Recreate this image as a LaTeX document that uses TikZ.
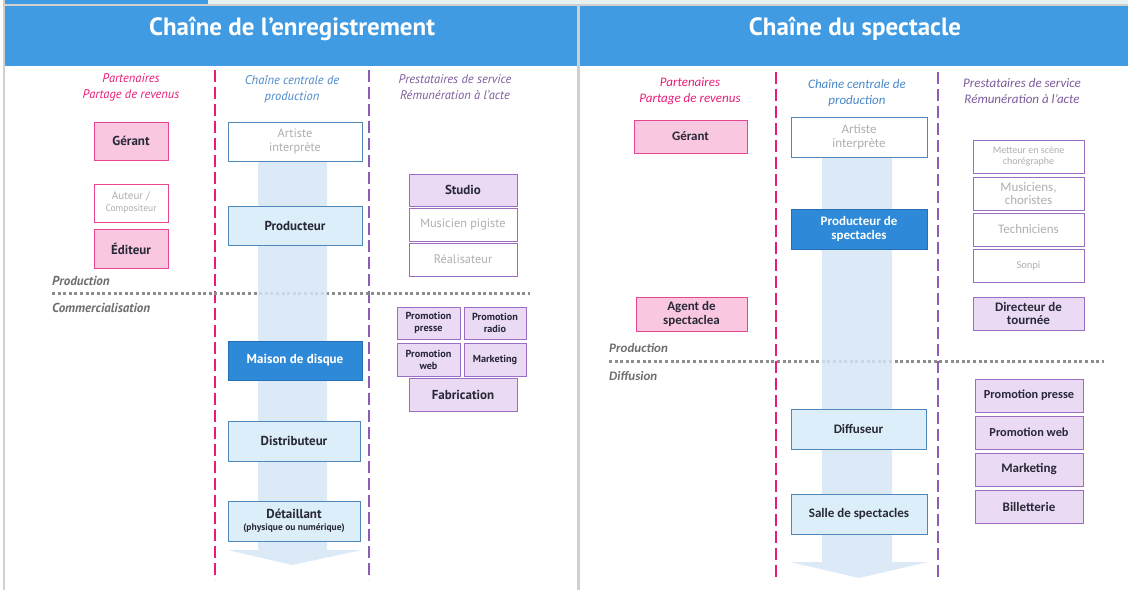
\documentclass[tikz,border=0pt]{standalone}
\usepackage{fontspec}
\setmainfont{PT Sans}
\newfontfamily\calib{Carlito}
\usetikzlibrary{positioning}
\definecolor{hdrblue}{RGB}{64,155,227}
\definecolor{tabpale}{RGB}{230,242,242}
\definecolor{edge}{RGB}{208,208,208}
\definecolor{pinkln}{RGB}{232,28,120}
\definecolor{pinkfill}{RGB}{249,200,224}
\definecolor{pinkbd}{RGB}{232,70,145}
\definecolor{purpln}{RGB}{140,92,182}
\definecolor{purpfill}{RGB}{234,218,244}
\definecolor{purpbd}{RGB}{155,110,195}
\definecolor{bluefill}{RGB}{220,238,250}
\definecolor{bluebd}{RGB}{80,135,185}
\definecolor{darkfill}{RGB}{46,138,216}
\definecolor{darkbd}{RGB}{36,112,184}
\definecolor{band}{RGB}{213,230,245}
\definecolor{bluetxt}{RGB}{74,136,200}
\definecolor{purptxt}{RGB}{125,90,155}
\definecolor{greytxt}{RGB}{110,110,110}
\definecolor{palegrey}{RGB}{175,175,175}
\definecolor{inktxt}{RGB}{40,40,55}
\tikzset{
  sz/.style 2 args={minimum width=#1, minimum height=#2},
  lbl/.style={font=\bfseries\fontsize{13}{15}\selectfont, text=inktxt},
  small/.style={font=\bfseries\fontsize{10.2}{12}\selectfont, text=inktxt},
  faint/.style={font=\fontsize{12.3}{15}\selectfont, text=palegrey},
  ptn/.style={draw=pinkbd, fill=pinkfill, line width=1pt, align=center, inner sep=1pt},
  ptnw/.style={draw=pinkbd, fill=white, line width=1pt, align=center, inner sep=1pt},
  ctr/.style={draw=bluebd, fill=bluefill, line width=1pt, align=center, inner sep=1pt},
  ctrw/.style={draw=bluebd, fill=white, line width=1pt, align=center, inner sep=1pt},
  ctrd/.style={draw=darkbd, fill=darkfill, line width=1pt, align=center, inner sep=1pt, text=white},
  srv/.style={draw=purpbd, fill=purpfill, line width=1pt, align=center, inner sep=1pt},
  srvw/.style={draw=purpbd, fill=white, line width=1pt, align=center, inner sep=1pt},
  colhead/.style={font=\itshape\fontsize{12.5}{16}\selectfont, align=center},
  phase/.style={font=\bfseries\itshape\fontsize{13}{15}\selectfont, text=greytxt, anchor=west, inner sep=0pt},
  pinkdash/.style={draw=pinkln, line width=2pt, dash pattern=on 12pt off 5pt},
  purpdash/.style={draw=purpln, line width=2pt, dash pattern=on 12pt off 5pt},
  phaseline/.style={draw=gray!90, line width=3pt, dash pattern=on 3pt off 2.6pt},
  title/.style={font=\bfseries\fontsize{25}{30}\selectfont, text=white}
}
\begin{document}
\begin{tikzpicture}[x=1pt,y=-1pt]
\useasboundingbox (0,0) rectangle (1128,590);
% frame and headers
\fill[tabpale] (208,0) rectangle (1128,4);
\fill[hdrblue] (5,0) rectangle (208,4);
\fill[edge] (5,4) rectangle (1128,6);
\fill[hdrblue] (5,6) rectangle (577,66);
\fill[hdrblue] (580,6) rectangle (1128,66);
\fill[edge] (3,0) rectangle (5,590);
\fill[edge] (577,6) rectangle (580,590);
\node[title] (t1) at (292,29) {Chaîne de l’enregistrement};
\node[title] (t2) at (855,29) {Chaîne du spectacle};

%%%% left panel
\node[colhead, text=pinkln] (h1) at (131,87) {Partenaires\\Partage de revenus};
\node[colhead, text=bluetxt] (h2) at (292,89) {Chaîne centrale de\\production};
\node[colhead, text=purptxt] (h3) at (455,87) {Prestataires de service\\Rémunération à l’acte};
\coordinate (pa) at (215,70); \coordinate (pb) at (215,580);
\coordinate (qa) at (369,70); \coordinate (qb) at (369,580);
\draw[pinkdash] (pa) -- (pb);
\draw[purpdash] (qa) -- (qb);
\coordinate (la) at (52,293); \coordinate (lb) at (530,293);
\draw[phaseline] (la) -- (lb);
\node[phase] (ph1) at (52,281) {Production};
\node[phase] (ph2) at (52,308) {Commercialisation};
% flow band
\fill[band, opacity=.85] (258,150) -- (327,150) -- (327,550) -- (362,550) -- (292,565) -- (228,550) -- (258,550) -- cycle;

\node[ptn, sz={74pt}{38pt}, lbl] (g1) at (131,141) {Gérant};
\node[ptnw, sz={74pt}{38pt}, faint, font=\fontsize{11}{13}\selectfont] (au1) at (131,203) {Auteur /\\[-1pt]{\fontsize{9.5}{11}\selectfont Compositeur}};
\node[ptn, sz={74pt}{39pt}, lbl] (ed1) at (131,248.5) {Éditeur};

\node[ctrw, sz={134pt}{39pt}, faint] (ar1) at (295,141.5) {Artiste\\[-1pt]interprète};
\node[ctr, sz={134pt}{39pt}, lbl] (pr1) at (295,225.5) {Producteur};
\node[ctrd, sz={134pt}{39pt}, lbl, text=white] (md1) at (295,360.5) {Maison de disque};
\node[ctr, sz={132pt}{40pt}, lbl] (di1) at (294,441) {Distributeur};
\node[ctr, sz={132pt}{40pt}, lbl] (de1) at (294,521) {Détaillant\\[-3pt]{\fontsize{9.5}{11}\selectfont (physique ou numérique)}};

\node[srv, sz={108pt}{32pt}, lbl] (st1) at (463,190) {Studio};
\node[srvw, sz={108pt}{33pt}, faint] (mp1) at (463,224.5) {Musicien pigiste};
\node[srvw, sz={108pt}{33pt}, faint] (re1) at (463,259.5) {Réalisateur};
\node[srv, sz={63pt}{32pt}, small] (pp1) at (428.5,323) {Promotion\\presse};
\node[srv, sz={62pt}{32pt}, small] (pr2) at (495,323) {Promotion\\radio};
\node[srv, sz={63pt}{33pt}, small] (pw1) at (428.5,359.5) {Promotion\\web};
\node[srv, sz={62pt}{33pt}, small] (mk1) at (495,359.5) {Marketing};
\node[srv, sz={108pt}{33pt}, lbl] (fa1) at (463,394.5) {Fabrication};

%%%% right panel
\tikzset{colhead/.append style={font=\calib\itshape\fontsize{13}{16}\selectfont},
  phase/.append style={font=\calib\bfseries\itshape\fontsize{13}{15}\selectfont}}
\node[colhead, text=pinkln] (h4) at (690,91) {Partenaires\\Partage de revenus};
\node[colhead, text=bluetxt] (h5) at (857,93) {Chaîne centrale de\\production};
\node[colhead, text=purptxt] (h6) at (1022,91) {Prestataires de service\\Rémunération à l’acte};
\coordinate (pc) at (776,72); \coordinate (pd) at (776,578);
\coordinate (qc) at (938,72); \coordinate (qd) at (938,578);
\draw[pinkdash] (pc) -- (pd);
\draw[purpdash] (qc) -- (qd);
\coordinate (lc) at (609,361); \coordinate (ld) at (1104,361);
\draw[phaseline] (lc) -- (ld);
\node[phase] (ph3) at (609,348) {Production};
\node[phase] (ph4) at (609,376) {Diffusion};
% flow band
\fill[band, opacity=.85] (822,150) -- (892,150) -- (892,562) -- (928,562) -- (859,578) -- (790,562) -- (822,562) -- cycle;

\tikzset{lbl/.append style={font=\calib\bfseries\fontsize{13}{15}\selectfont},
  faint/.append style={font=\calib\fontsize{13}{15}\selectfont}}
\node[ptn, sz={113pt}{33pt}, lbl] (g2) at (690.5,136.5) {Gérant};
\node[ptn, sz={111pt}{34pt}, lbl] (ag2) at (691.5,314) {Agent de\\[-1pt]spectaclea};

\node[ctrw, sz={136pt}{40pt}, faint] (ar2) at (859,137) {Artiste\\[-1pt]interprète};
\node[ctrd, sz={136pt}{40pt}, lbl, text=white] (ps2) at (859,229) {Producteur de\\[-1pt]spectacles};
\node[ctr, sz={135pt}{40pt}, lbl] (di2) at (858.5,429) {Diffuseur};
\node[ctr, sz={136pt}{40pt}, lbl] (sa2) at (859,514) {Salle de spectacles};

\node[srvw, sz={111pt}{33pt}, faint, font=\calib\fontsize{10}{11.5}\selectfont] (me2) at (1028.5,156.5) {Metteur en scène\\chorégraphe};
\node[srvw, sz={111pt}{33pt}, faint] (mu2) at (1028.5,193.5) {Musiciens,\\[-2pt]choristes};
\node[srvw, sz={111pt}{33pt}, faint] (te2) at (1028.5,229.5) {Techniciens};
\node[srvw, sz={111pt}{33pt}, faint, font=\calib\fontsize{10.5}{12}\selectfont] (so2) at (1028.5,265.5) {Sonpi};
\node[srv, sz={111pt}{33pt}, lbl] (dt2) at (1028.5,313.5) {Directeur de\\[-2pt]tournée};
\node[srv, sz={108pt}{33pt}, lbl, font=\calib\bfseries\fontsize{12.3}{14}\selectfont] (pp2) at (1029,395.5) {Promotion presse};
\node[srv, sz={108pt}{33pt}, lbl, font=\calib\bfseries\fontsize{12.3}{14}\selectfont] (pw2) at (1029,432.5) {Promotion web};
\node[srv, sz={108pt}{33pt}, lbl] (mk2) at (1029,469.5) {Marketing};
\node[srv, sz={108pt}{33pt}, lbl] (bi2) at (1029,507) {Billetterie};
\end{tikzpicture}
\end{document}
